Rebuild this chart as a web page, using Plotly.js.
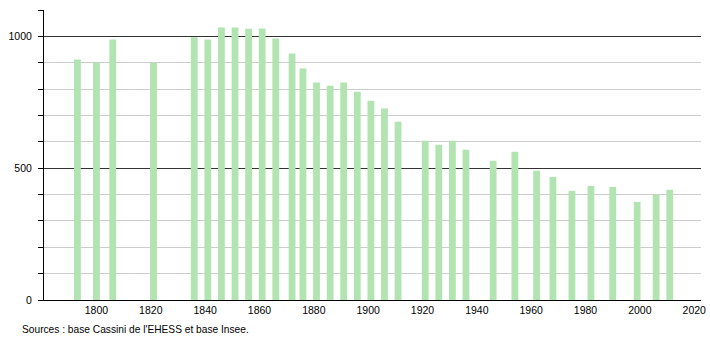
<!DOCTYPE html>
<html>
<head>
<meta charset="utf-8">
<script src="https://cdn.plot.ly/plotly-3.0.1.min.js"></script>
<style>html,body{margin:0;padding:0;background:#fff;}#chart{width:710px;height:340px;}</style>
</head>
<body>
<div id="chart"></div>
<script>
const years = [1793, 1800, 1806, 1821, 1836, 1841, 1846, 1851, 1856, 1861, 1866, 1872, 1876, 1881, 1886, 1891, 1896, 1901, 1906, 1911, 1921, 1926, 1931, 1936, 1946, 1954, 1962, 1968, 1975, 1982, 1990, 1999, 2006, 2011];
const population = [912, 900, 988, 900, 997, 988, 1034, 1034, 1029, 1030, 992, 935, 878, 825, 813, 825, 790, 756, 726, 676, 604, 589, 604, 570, 528, 562, 490, 467, 414, 433, 429, 372, 399, 418];
const xTicks = [1800, 1820, 1840, 1860, 1880, 1900, 1920, 1940, 1960, 1980, 2000, 2020];
const sourceText = "Sources : base Cassini de l'EHESS et base Insee.";

const font = {family: 'Liberation Sans, Arial, sans-serif', size: 10.5, color: '#000'};

Plotly.newPlot('chart', [{
  type: 'bar',
  x: years,
  y: population,
  width: 2.5,
  marker: {color: '#b1e4b1', line: {width: 0}},
  hoverinfo: 'x+y'
}], {
  width: 710,
  height: 340,
  margin: {l: 44, r: 9, t: 10, b: 40},
  paper_bgcolor: '#fff',
  plot_bgcolor: '#fff',
  font: font,
  showlegend: false,
  xaxis: {
    range: [1780.7, 2022.5],
    tickvals: xTicks,
    ticktext: xTicks.map(String),
    ticks: '',
    showgrid: false,
    zeroline: false,
    showline: true,
    linecolor: '#000',
    linewidth: 1,
    tickfont: font,
    fixedrange: true
  },
  yaxis: {
    range: [0, 1100],
    dtick: 500,
    tick0: 0,
    ticks: 'outside',
    ticklen: 5,
    tickcolor: '#000',
    ticklabelstandoff: 4,
    showgrid: true,
    gridcolor: '#333',
    gridwidth: 1,
    zeroline: false,
    showline: true,
    linecolor: '#000',
    linewidth: 1,
    tickfont: font,
    minor: {dtick: 100, tick0: 0, ticks: 'outside', ticklen: 5, tickcolor: '#000', showgrid: true, gridcolor: '#ccc', gridwidth: 1},
    fixedrange: true
  },
  annotations: [{
    text: sourceText,
    xref: 'paper', yref: 'paper',
    x: -0.0365, y: -0.1,
    xanchor: 'left', yanchor: 'middle',
    showarrow: false,
    font: {family: 'Liberation Sans, Arial, sans-serif', size: 10.2, color: '#000'}
  }]
}, {displayModeBar: false, staticPlot: true});
</script>
</body>
</html>
